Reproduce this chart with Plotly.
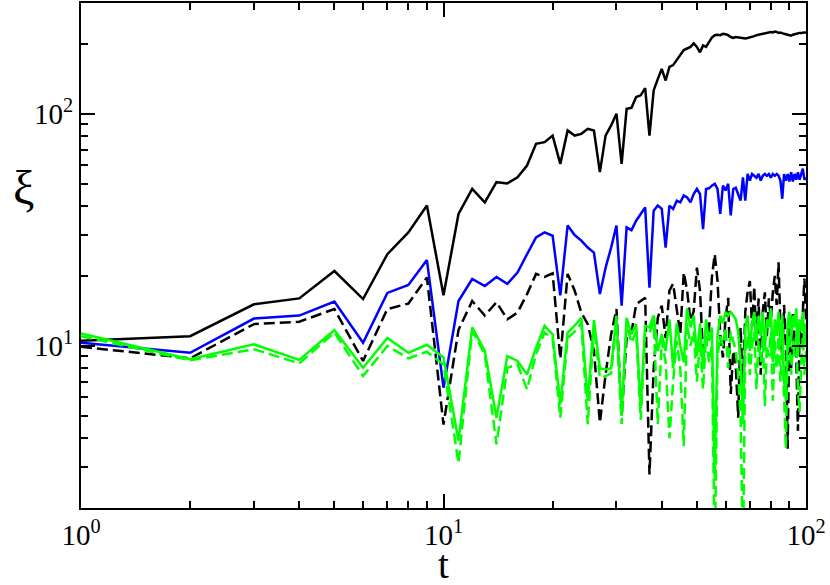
from plotly.graph_objects import Figure, Scatter

FONT = "Liberation Serif"
LINE_W = 2.5
DASH = "11px,5px"

t = list(range(1, 101))

xi_black = [
    10.5, 11.0, 15.1, 16.0, 21.0, 15.9, 24.8, 30.8, 40.2, 16.5,
    37.0, 47.4, 41.5, 50.7, 50.1, 53.2, 59.8, 74.2, 75.4, 80.5,
    60.8, 84.7, 80.5, 81.9, 86.1, 84.7, 56.0, 80.5, 89.0, 100,
    60.8, 105, 106, 118, 120, 129, 80.5, 126, 141, 156,
    139, 159, 162, 170, 178, 188, 191, 194, 201, 194,
    184, 197, 194, 204, 213, 218, 219, 218, 221, 220,
    218, 214, 212, 214, 213, 212, 211, 211, 212, 213,
    215, 216, 218, 219, 220, 221, 222, 224, 225, 225,
    224, 226, 225, 223, 224, 222, 221, 220, 219, 218,
    217, 219, 220, 222, 223, 223, 223, 224, 224, 224,
]

xi_blue = [
    10.3, 9.33, 13.1, 13.5, 15.5, 10.3, 16.9, 18.3, 23.4, 6.6,
    15.6, 19.4, 18.1, 19.8, 18.5, 20.7, 24.8, 29.3, 30.8, 29.8,
    16.5, 33.0, 30.0, 28.4, 26.5, 25.2, 16.7, 21.7, 26.5, 33.0,
    14.9, 32.4, 31.5, 34.6, 37.0, 39.5, 17.8, 38.2, 40.2, 38.9,
    26.5, 40.2, 38.9, 42.2, 41.5, 44.4, 43.6, 41.5, 45.1, 47.4,
    45.1, 31.8, 47.4, 47.7, 49.0, 49.9, 47.4, 37.0, 49.0, 46.7,
    49.9, 36.5, 47.4, 48.0, 45.0, 42.2, 53.2, 42.2, 55.1, 51.5,
    55.0, 54.0, 53.0, 55.0, 51.5, 54.0, 55.0, 54.0, 55.0, 53.0,
    55.0, 54.0, 55.0, 54.0, 51.5, 43.0, 55.0, 51.5, 55.0, 51.0,
    56.0, 51.0, 55.0, 52.0, 56.0, 52.0, 55.0, 58.0, 52.0, 53.0,
]

xi_black_dash = [
    9.9, 8.83, 12.4, 12.7, 14.4, 8.6, 14.4, 15.2, 19.7, 4.58,
    11.7, 15.6, 13.5, 15.4, 13.0, 13.9, 16.7, 20.4, 19.8, 20.5,
    8.8, 20.4, 17.3, 13.9, 12.4, 9.5, 4.66, 7.53, 11.2, 14.4,
    4.98, 10.8, 11.4, 15.1, 15.6, 16.1, 2.79, 8.0, 13.2, 14.9,
    10.8, 17.3, 18.5, 14.1, 11.2, 20.7, 17.3, 12.8, 14.1, 21.7,
    17.3, 9.19, 10.5, 11.8, 19.7, 24.8, 19.1, 11.2, 8.9, 13.2,
    16.1, 6.2, 9.5, 8.3, 4.9, 12.0, 6.5, 14.0, 17.0, 19.0,
    12.0, 18.0, 10.0, 16.0, 7.5, 14.0, 17.0, 11.0, 16.0, 13.0,
    17.0, 20.0, 15.0, 22.9, 12.0, 9.0, 15.0, 10.0, 3.6, 12.0,
    8.0, 14.0, 11.0, 9.0, 4.3, 12.0, 10.0, 14.0, 19.5, 13.0,
]

xi_green = [
    11.3, 8.75, 10.15, 8.69, 11.7, 8.04, 10.8, 9.33, 10.1, 8.9,
    3.9, 12.0, 9.5, 4.89, 9.03, 8.6, 7.53, 9.8, 12.2, 11.2,
    5.6, 11.4, 12.2, 13.2, 5.8, 12.9, 8.0, 7.9, 8.0, 13.5,
    5.0, 13.2, 11.2, 12.4, 5.4, 12.2, 12.0, 13.5, 9.5, 11.2,
    9.5, 13.0, 8.0, 12.5, 10.0, 8.5, 14.5, 12.0, 13.5, 9.0,
    12.5, 8.0, 13.0, 10.5, 12.0, 2.7, 11.0, 13.5, 12.5, 14.0,
    13.5, 14.0, 13.5, 13.0, 11.5, 8.5, 4.6, 12.0, 13.5, 9.5,
    12.5, 14.0, 10.5, 13.5, 11.0, 14.0, 9.5, 13.0, 12.0, 14.5,
    8.5, 13.0, 11.0, 14.0, 10.0, 13.5, 7.0, 5.8, 12.5, 14.0,
    10.5, 13.5, 12.0, 14.5, 9.0, 13.0, 11.5, 14.0, 10.0, 12.5,
]

xi_green_dash = [
    11.0, 8.66, 9.66, 8.4, 11.4, 7.41, 9.98, 8.83, 9.43, 8.3,
    3.12, 11.6, 9.19, 3.76, 8.04, 8.3, 6.49, 9.19, 11.4, 10.7,
    4.9, 10.8, 11.5, 12.5, 4.6, 12.0, 7.3, 7.4, 7.6, 12.8,
    4.6, 12.5, 10.3, 11.5, 4.8, 11.6, 11.4, 12.6, 4.6, 10.5,
    8.5, 4.0, 7.0, 10.5, 8.0, 3.7, 12.5, 10.0, 11.5, 7.0,
    10.5, 6.5, 11.0, 8.5, 10.0, 1.2, 9.0, 11.0, 10.0, 12.0,
    8.0, 11.5, 10.5, 9.5, 7.5, 5.0, 1.2, 9.5, 11.0, 7.5,
    10.0, 11.5, 6.5, 10.5, 8.5, 11.0, 5.5, 10.0, 9.0, 11.5,
    5.8, 10.5, 8.0, 11.0, 7.0, 10.5, 6.0, 3.6, 9.5, 11.0,
    7.5, 10.5, 9.0, 11.5, 6.5, 5.2, 8.5, 11.0, 7.5, 9.5,
]

x_tickvals = [1, 10, 100]
x_ticktext = ["10<sup>0</sup>", "10<sup>1</sup>", "10<sup>2</sup>"]
x_minor = [2, 3, 4, 5, 6, 7, 8, 9, 20, 30, 40, 50, 60, 70, 80, 90]
y_tickvals = [10, 100]
y_ticktext = ["10<sup>1</sup>", "10<sup>2</sup>"]
y_minor = [2, 3, 4, 5, 6, 7, 8, 9, 20, 30, 40, 50, 60, 70, 80, 90, 200, 300]

series = [
    (xi_black, "#000000", "solid"),
    (xi_blue, "#0000ff", "solid"),
    (xi_black_dash, "#000000", DASH),
    (xi_green, "#00ff00", "solid"),
    (xi_green_dash, "#00ff00", DASH),
]

fig = Figure()
for values, color, dash in series:
    fig.add_trace(Scatter(
        x=t, y=values, mode="lines",
        line=dict(color=color, width=LINE_W, dash=dash),
        showlegend=False,
    ))

axis_common = dict(
    type="log",
    automargin=False,
    showgrid=False,
    zeroline=False,
    showline=True,
    linecolor="#000000",
    linewidth=2,
    mirror="ticks",
    ticks="inside",
    ticklen=14,
    tickwidth=2,
    tickcolor="#000000",
    tickfont=dict(family=FONT, size=29, color="#000000"),
    tickmode="array",
)

fig.update_xaxes(
    range=[0, 2], tickvals=x_tickvals, ticktext=x_ticktext,
    minor=dict(tickmode="array", tickvals=x_minor, ticks="inside", ticklen=7,
               tickwidth=2, tickcolor="#000000", showgrid=False),
    **axis_common
)
fig.update_yaxes(
    range=[0.30103, 2.4771], tickvals=y_tickvals, ticktext=y_ticktext,
    minor=dict(tickmode="array", tickvals=y_minor, ticks="inside", ticklen=7,
               tickwidth=2, tickcolor="#000000", showgrid=False),
    **axis_common
)

fig.add_annotation(text="t", x=0.5, y=-0.112, xref="paper", yref="paper",
                   showarrow=False, yanchor="middle",
                   font=dict(family=FONT, size=39, color="#000000"))
fig.add_annotation(text="ξ", x=-0.079, y=0.635, xref="paper", yref="paper",
                   showarrow=False, xanchor="center", yanchor="middle",
                   font=dict(family=FONT, size=48, color="#000000"))

fig.update_layout(
    width=830,
    height=585,
    margin=dict(l=81, r=24, t=3, b=77),
    plot_bgcolor="#ffffff",
    paper_bgcolor="#ffffff",
)

# page body has an 8px default margin; drop it so the figure sits at 0,0
fig.write_html("out.html", config={"displayModeBar": False},
               post_script="document.body.style.margin='0';")
